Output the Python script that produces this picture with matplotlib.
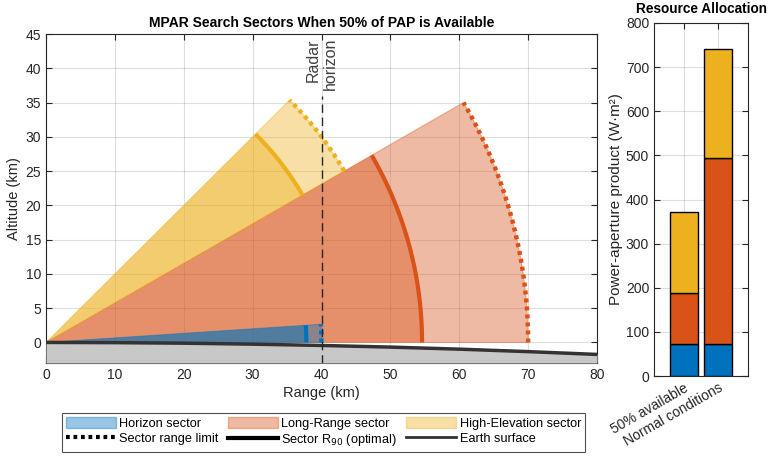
import numpy as np
import matplotlib
matplotlib.use("Agg")
import matplotlib.pyplot as plt
from matplotlib.patches import Wedge, Patch
from matplotlib.lines import Line2D

plt.rcParams['font.family'] = ['Liberation Sans', 'DejaVu Sans']

# ---- data ----
sector_names = ["Horizon sector", "Long-Range sector", "High-Elevation sector"]
sector_colors = ["#0072BD", "#D95319", "#EDB120"]
elev_low = [0.0, 0.0, 30.0]      # deg
elev_high = [3.8, 30.0, 45.0]    # deg
r90 = [37.8, 54.6, 43.0]         # km
rmax = [40.0, 70.0, 50.0]        # km

earth_range = [0, 10, 20, 30, 40, 50, 60, 70, 80]
earth_alt = [0, -0.03, -0.11, -0.25, -0.44, -0.68, -0.98, -1.34, -1.75]

radar_horizon = 40.0

bar_categories = ["50% available", "Normal conditions"]
pap_horizon = [73, 73]
pap_longrange = [116, 422]
pap_highelev = [183, 247]

# ---- figure ----
fig = plt.figure(figsize=(7.69, 4.57), dpi=100)
txtc = "#262626"

ax = fig.add_axes([46/769, 1-363/457, (597-46)/769, (363-34)/457])
ax.set_xlim(0, 80)
ax.set_ylim(-3, 45)

draw_order = [1, 2, 0]
for i in draw_order:
    c = sector_colors[i]
    w1 = Wedge((0, 0), rmax[i], elev_low[i], elev_high[i], facecolor=c, alpha=0.4,
               edgecolor=c, lw=0.8, zorder=2)
    w2 = Wedge((0, 0), r90[i], elev_low[i], elev_high[i], facecolor=c, alpha=0.4,
               edgecolor='none', zorder=2)
    ax.add_patch(w1)
    ax.add_patch(w2)
    th = np.radians(np.linspace(elev_low[i], elev_high[i], 60))
    ax.plot(r90[i]*np.cos(th), r90[i]*np.sin(th), color=c, lw=3, zorder=4,
            solid_capstyle='butt')
    ax.plot(rmax[i]*np.cos(th), rmax[i]*np.sin(th), color=c, lw=3.2, zorder=4,
            linestyle=(0, (0.9, 0.9)), dash_capstyle='butt')

ax.fill_between(earth_range, earth_alt, -3, color="#C8C8C8", zorder=5, lw=0)
ax.plot(earth_range, earth_alt, color="#333333", lw=2.5, zorder=6)

ax.plot([radar_horizon, radar_horizon], [-3, 36], color="#262626", lw=1,
        linestyle=(0, (6, 3.5)), zorder=7)
ax.text(radar_horizon, 44.4, "Radar\nhorizon", rotation=90, ha='center', va='top',
        multialignment='right', color="#404040", fontsize=11.5, zorder=8,
        linespacing=1.15)

ax.set_xticks(np.arange(0, 81, 10))
ax.set_yticks(np.arange(0, 46, 5))
ax.grid(True, color="#000000", alpha=0.13, lw=0.8)
ax.set_axisbelow(True)
ax.tick_params(direction='in', top=True, right=True, labelsize=10, colors=txtc, length=4)
for s in ax.spines.values():
    s.set_color(txtc)
ax.set_xlabel("Range (km)", fontsize=10.5, color=txtc, labelpad=3)
ax.set_ylabel("Altitude (km)", fontsize=10.5, color=txtc, labelpad=3)
ax.set_title("MPAR Search Sectors When 50% of PAP is Available", fontsize=10,
             fontweight='bold', color='black', pad=5)

handles = [
    Patch(facecolor=sector_colors[0], alpha=0.4, edgecolor=sector_colors[0]),
    Line2D([], [], color='black', lw=3, linestyle=(0, (0.9, 0.9))),
    Patch(facecolor=sector_colors[1], alpha=0.4, edgecolor=sector_colors[1]),
    Line2D([], [], color='black', lw=3),
    Patch(facecolor=sector_colors[2], alpha=0.4, edgecolor=sector_colors[2]),
    Line2D([], [], color='#333333', lw=2),
]
labels = [sector_names[0], "Sector range limit", sector_names[1],
          "Sector R$_{90}$ (optimal)", sector_names[2], "Earth surface"]
leg = fig.legend(handles, labels, ncol=3, loc='center',
                 bbox_to_anchor=(323.5/769, 1-432.5/457), fontsize=9.2,
                 frameon=True, fancybox=False, edgecolor=txtc,
                 handlelength=3.9, handleheight=1.0, columnspacing=0.7,
                 handletextpad=0.3, borderpad=0.3, labelspacing=0.2)
leg.get_frame().set_linewidth(0.8)

# ---- bar chart ----
bx = fig.add_axes([654/769, 1-376/457, (748-654)/769, (376-23)/457])
xpos = np.arange(1, len(bar_categories)+1)
b1 = np.array(pap_horizon)
b2 = np.array(pap_longrange)
b3 = np.array(pap_highelev)
bx.bar(xpos, b1, width=0.8, color=sector_colors[0], edgecolor='black', lw=1, zorder=3)
bx.bar(xpos, b2, bottom=b1, width=0.8, color=sector_colors[1], edgecolor='black', lw=1, zorder=3)
bx.bar(xpos, b3, bottom=b1+b2, width=0.8, color=sector_colors[2], edgecolor='black', lw=1, zorder=3)
bx.set_xlim(0.12, 2.88)
bx.set_ylim(0, 800)
bx.set_yticks(np.arange(0, 801, 100))
bx.set_xticks(xpos)
bx.set_xticklabels(bar_categories, rotation=30, ha='right', rotation_mode='anchor')
bx.grid(True, color="#000000", alpha=0.13, lw=0.8)
bx.set_axisbelow(True)
bx.tick_params(direction='in', top=True, right=True, labelsize=10, colors=txtc, length=4)
for s in bx.spines.values():
    s.set_color(txtc)
bx.set_ylabel("Power-aperture product (W·m²)", fontsize=11, color=txtc, labelpad=2)
bx.set_title("Resource Allocation", fontsize=9.8, fontweight='bold', color='black', pad=7)

fig.savefig("out.png", dpi=100)
